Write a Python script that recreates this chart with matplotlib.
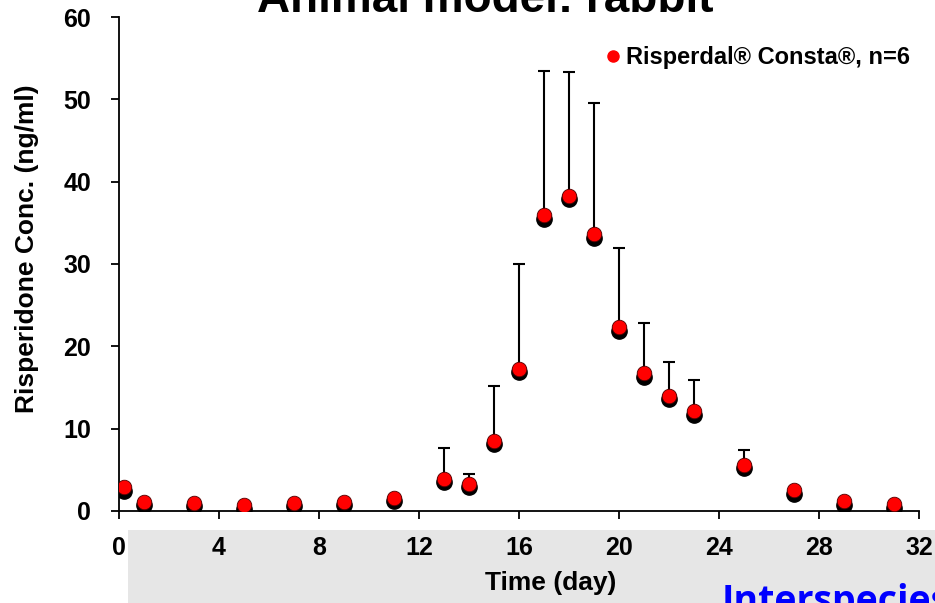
import matplotlib
matplotlib.use("Agg")
import matplotlib.pyplot as plt
import matplotlib.transforms as mtransforms
from matplotlib.patches import Rectangle
from matplotlib.lines import Line2D

# data
days = [0.2, 1, 3, 5, 7, 9, 11, 13, 14, 15, 16, 17, 18, 19, 20, 21, 22, 23, 25, 27, 29, 31]
conc = [2.9, 1.1, 1.0, 0.7, 1.0, 1.1, 1.6, 3.9, 3.3, 8.5, 17.3, 35.9, 38.3, 33.6,
        22.3, 16.7, 14.0, 12.1, 5.6, 2.5, 1.2, 0.8]
upper = [2.9, 1.1, 1.0, 0.7, 1.0, 1.1, 1.6, 7.6, 4.5, 15.2, 30.0, 53.5, 53.3, 49.6,
         32.0, 22.8, 18.1, 15.9, 7.4, 2.5, 1.2, 0.8]
xticks = [0, 4, 8, 12, 16, 20, 24, 28, 32]
yticks = [0, 10, 20, 30, 40, 50, 60]

plt.rcParams["font.family"] = ["Liberation Sans", "DejaVu Sans"]

fig = plt.figure(figsize=(9.35, 6.03), dpi=100)
ax = fig.add_axes([0.1273, 0.1526, 0.8556, 0.8192])
ax.set_facecolor("none")

# grey slide panel below the chart
fig.patches.append(Rectangle((128 / 935, 0), 1, 73 / 603, transform=fig.transFigure,
                             facecolor="#e6e6e6", edgecolor="none", zorder=-5))

# upper error bars only
ax.vlines(days, conc, upper, color="black", linewidth=1.5, zorder=2)
ax.plot(days, upper, "_", color="black", markersize=8, markeredgewidth=1.5, zorder=2)

# shadow under the markers
shadow = mtransforms.offset_copy(ax.transData, fig=fig, x=0, y=-2.5, units="points")
ax.plot(days, conc, "o", color="black", markersize=11, transform=shadow, zorder=3)
ax.plot(days, conc, "o", color="#ff0000", markeredgecolor="#500000",
        markeredgewidth=0.6, markersize=10.5, zorder=4)

ax.set_xlim(0, 32)
ax.set_ylim(0, 60)
ax.set_xticks(xticks)
ax.set_yticks(yticks)
for s in ["top", "right"]:
    ax.spines[s].set_visible(False)
ax.spines["left"].set_linewidth(1.3)
ax.spines["bottom"].set_linewidth(1.3)
ax.tick_params(direction="out", length=6, width=1.3)
ax.tick_params(axis="x", pad=12)
ax.tick_params(axis="y", pad=14)
for lab in ax.get_xticklabels() + ax.get_yticklabels():
    lab.set_fontweight("bold")
    lab.set_fontsize(18)

ax.set_ylabel("Risperidone Conc. (ng/ml)", fontsize=19, fontweight="bold")
ax.yaxis.set_label_coords(-0.1, 0.53)
ax.set_xlabel("Time (day)", fontsize=19, fontweight="bold")
ax.xaxis.set_label_coords(0.54, -0.122)

h = Line2D([], [], marker="o", color="#ff0000", linestyle="none", markersize=8)
ax.legend([h], ["Risperdal® Consta®, n=6"], loc="upper right", frameon=False,
          handletextpad=0.05, handlelength=1.0, borderaxespad=0,
          bbox_to_anchor=(1.0, 0.96), prop={"weight": "bold", "size": 17})

fig.text(485 / 935, 1 - 12 / 603, "Animal model: rabbit", ha="center", va="baseline",
         fontsize=33, fontweight="bold")
fig.text(722 / 935, 1 - 612 / 603, "Interspecies", ha="left", va="baseline",
         fontsize=27, fontweight="bold", color="#0000ff", family=["Open Sans", "DejaVu Sans"])

fig.savefig("out.png", dpi=100)
